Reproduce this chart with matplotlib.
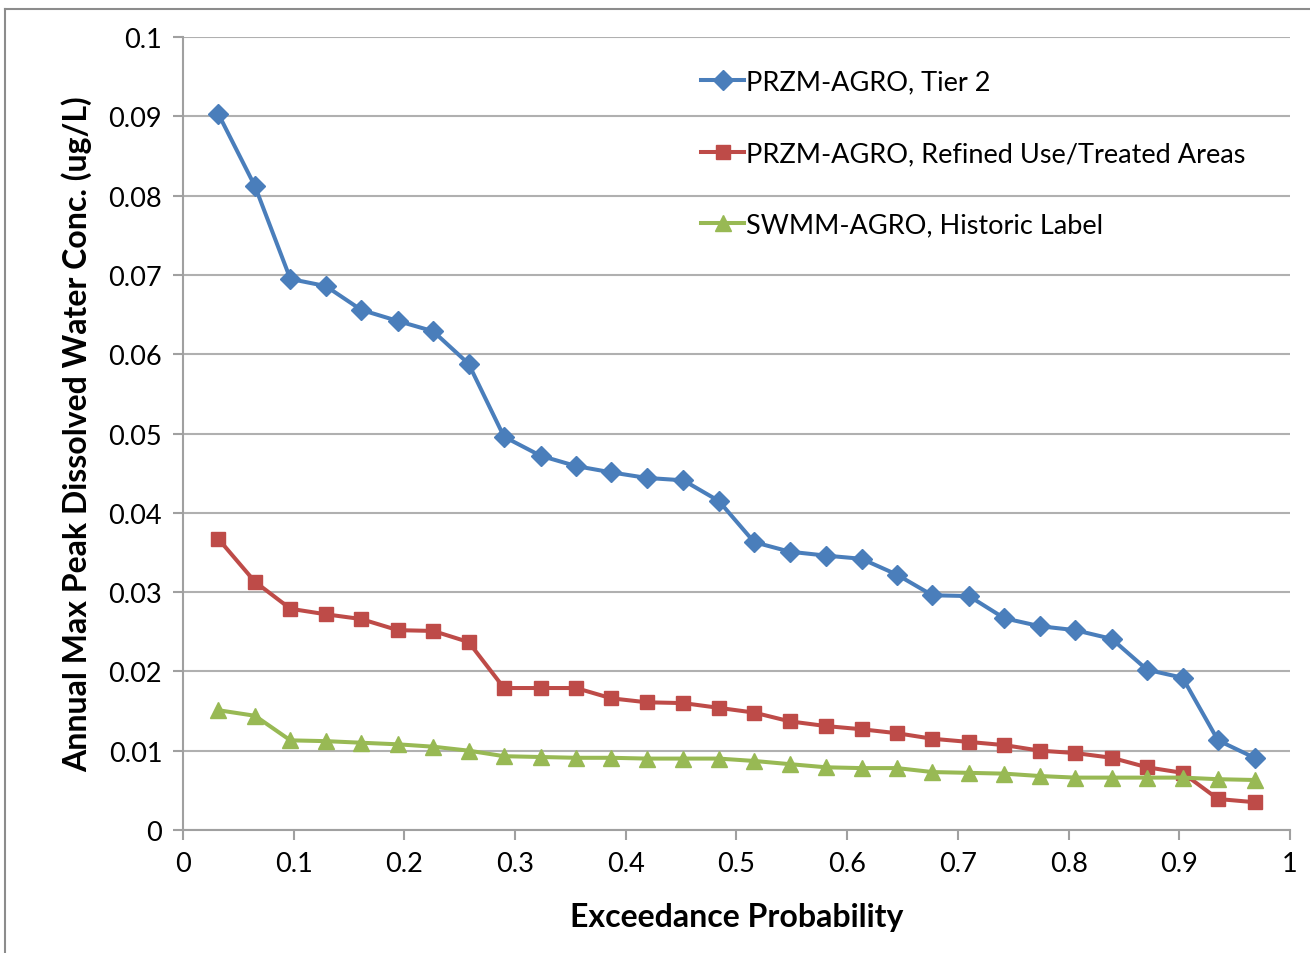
import matplotlib
matplotlib.use('Agg')
import matplotlib.pyplot as plt
from matplotlib.lines import Line2D

# exceedance probabilities (Weibull plotting positions, 30 years)
prob = [0.032, 0.065, 0.097, 0.129, 0.161, 0.194, 0.226, 0.258, 0.290, 0.323,
        0.355, 0.387, 0.419, 0.452, 0.484, 0.516, 0.548, 0.581, 0.613, 0.645,
        0.677, 0.710, 0.742, 0.774, 0.806, 0.839, 0.871, 0.903, 0.935, 0.968]

tier2 = [0.0903, 0.0812, 0.0695, 0.0686, 0.0656, 0.0642, 0.0629, 0.0588, 0.0496, 0.0472,
         0.0459, 0.0451, 0.0444, 0.0441, 0.0415, 0.0363, 0.0351, 0.0346, 0.0342, 0.0322,
         0.0296, 0.0295, 0.0267, 0.0257, 0.0252, 0.0241, 0.0202, 0.0192, 0.0113, 0.0091]

refined = [0.0367, 0.0313, 0.0279, 0.0272, 0.0266, 0.0252, 0.0251, 0.0237, 0.0179, 0.0179,
           0.0179, 0.0166, 0.0161, 0.0160, 0.0154, 0.0148, 0.0137, 0.0131, 0.0127, 0.0122,
           0.0115, 0.0111, 0.0107, 0.0100, 0.0097, 0.0091, 0.0079, 0.0072, 0.0039, 0.0035]

swmm = [0.0151, 0.0144, 0.0113, 0.0112, 0.0110, 0.0108, 0.0105, 0.0100, 0.0093, 0.0092,
        0.0091, 0.0091, 0.0090, 0.0090, 0.0090, 0.0087, 0.0083, 0.0079, 0.0078, 0.0078,
        0.0073, 0.0072, 0.0071, 0.0068, 0.0066, 0.0066, 0.0066, 0.0066, 0.0064, 0.0063]

labels = ['PRZM-AGRO, Tier 2', 'PRZM-AGRO, Refined Use/Treated Areas', 'SWMM-AGRO, Historic Label']

plt.rcParams['font.family'] = ['Lato', 'DejaVu Sans']

fig = plt.figure(figsize=(13.1, 9.54), dpi=100)
ax = fig.add_axes([0.1397, 0.129, 0.845, 0.831])

ax.plot(prob, tier2, color='#4A7EBB', lw=2.9, marker='D', ms=10, label=labels[0], zorder=3)
ax.plot(prob, refined, color='#BE4B48', lw=2.9, marker='s', ms=10.5, label=labels[1], zorder=3)
ax.plot(prob, swmm, color='#98B954', lw=2.9, marker='^', ms=12, label=labels[2], zorder=3)

ax.set_xlim(0, 1)
ax.set_ylim(0, 0.1)
ax.set_xticks([i / 10 for i in range(11)])
ax.set_xticklabels(['0', '0.1', '0.2', '0.3', '0.4', '0.5', '0.6', '0.7', '0.8', '0.9', '1'])
ax.set_yticks([i / 100 for i in range(11)])
ax.set_yticklabels(['0', '0.01', '0.02', '0.03', '0.04', '0.05', '0.06', '0.07', '0.08', '0.09', '0.1'])
ax.grid(axis='y', color='#B0B0B0', lw=1.5)
ax.set_axisbelow(True)
for s in ['top', 'right']:
    ax.spines[s].set_visible(False)
for s in ['left', 'bottom']:
    ax.spines[s].set_color('#A0A0A0')
    ax.spines[s].set_linewidth(1.5)
ax.tick_params(axis='both', colors='#A0A0A0', length=7, width=1.5, labelsize=19.5, labelcolor='black')
ax.tick_params(axis='x', pad=8)
ax.tick_params(axis='y', pad=8)

ax.set_xlabel('Exceedance Probability', fontsize=23, fontweight='bold', labelpad=19)
ax.set_ylabel('Annual Max Peak Dissolved Water Conc. (ug/L)', fontsize=23, fontweight='bold', labelpad=12)

ax.legend(loc='upper left', bbox_to_anchor=(0.446, 0.99), frameon=False, fontsize=19.5,
          labelspacing=1.72, handlelength=1.6, handletextpad=0.05)

# outer chart border (cropped)
fig.add_artist(Line2D([0.004, 1.0], [0.990, 0.990], color='#8C8C8C', lw=1.5))
fig.add_artist(Line2D([0.004, 0.004], [0.0, 0.990], color='#8C8C8C', lw=1.5))

fig.savefig('out.png', dpi=100)
